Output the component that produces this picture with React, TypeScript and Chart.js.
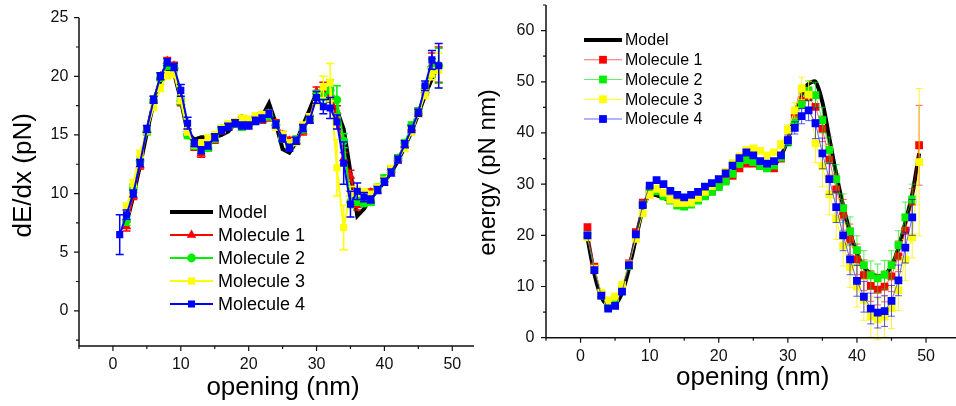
import React, { useEffect, useRef } from 'react';
import { Chart, registerables } from 'chart.js';

Chart.register(...registerables);

const FONT = '"Liberation Sans", Arial, Helvetica, sans-serif';
Chart.defaults.font.family = FONT;

// ---------- Left panel: dE/dx (pN) vs opening (nm) ----------
const openingL = [1, 2, 3, 4, 5, 6, 7, 8, 9, 10, 11, 12, 13, 14, 15, 16, 17, 18, 19, 20, 21, 22, 23, 24, 25, 26, 27, 28, 29, 30, 31, 32, 33, 34, 35, 36, 37, 38, 39, 40, 41, 42, 43, 44, 45, 46, 47, 48];
const modelOpeningL = [2, 3, 4, 5, 6, 7, 8, 9, 10, 11, 12, 13, 14, 15, 16, 17, 18, 19, 20, 21, 22, 23, 24, 25, 26, 27, 28, 29, 30, 31, 32, 33, 34, 35, 36, 37, 38, 39, 40, 41, 42, 43, 44, 45, 46, 47, 47.6];
const modelDEdx = [7.5, 9.8, 12.4, 15.2, 17.8, 19.6, 20.4, 20.3, 18.0, 15.2, 14.6, 14.8, 14.8, 14.8, 15.0, 15.3, 16.0, 16.6, 16.4, 16.2, 16.6, 17.7, 16.0, 13.8, 13.5, 14.4, 15.8, 17.2, 18.6, 18.5, 17.9, 17.1, 15.5, 11.8, 8.1, 8.7, 9.6, 10.3, 11.0, 11.8, 12.8, 14.0, 15.3, 16.8, 18.4, 19.8, 20.5];

const mol1DEdx = [null, 7.2, 9.8, 12.4, 15.4, 18.0, 20.0, 21.3, 20.9, 17.8, 15.2, 14.0, 13.4, 13.9, 14.6, 15.4, 15.7, 16.0, 16.2, 16.0, 16.3, 16.3, 16.5, 16.0, 15.0, 14.5, 14.5, 15.3, 16.4, 18.7, 18.8, 18.4, 17.0, 13.0, 11.5, 9.0, 9.3, 10.1, 10.4, 11.2, 12.0, 13.0, 14.2, 15.6, 17.0, 18.8, 21.0, 21.0];
const mol1DEdxErr = [0, 0.4, 0.3, 0.3, 0.3, 0.3, 0.3, 0.3, 0.3, 0.3, 0.3, 0.3, 0.3, 0.3, 0.3, 0.3, 0.3, 0.3, 0.3, 0.3, 0.3, 0.3, 0.3, 0.3, 0.3, 0.3, 0.3, 0.3, 0.3, 0.4, 0.7, 0.6, 0.5, 0.5, 0.5, 0.4, 0.3, 0.3, 0.3, 0.3, 0.3, 0.3, 0.3, 0.3, 0.3, 0.4, 1.0, 1.5];

const mol2DEdx = [null, 7.7, 10.5, 12.8, 15.3, 18.0, 19.9, 20.9, 20.6, 17.9, 15.0, 14.1, 13.8, 13.9, 14.7, 15.5, 15.8, 16.0, 15.7, 16.0, 16.3, 16.4, 16.6, 15.9, 14.7, 14.1, 14.6, 15.5, 16.3, 18.4, 18.3, 18.8, 18.0, 14.5, 9.3, 9.4, 9.2, 9.3, 10.5, 11.3, 12.0, 13.0, 14.3, 15.8, 17.0, 18.9, 20.7, 20.9];
const mol2DEdxErr = [0, 0.4, 0.3, 0.3, 0.3, 0.3, 0.3, 0.3, 0.3, 0.3, 0.3, 0.3, 0.3, 0.3, 0.3, 0.3, 0.3, 0.3, 0.3, 0.3, 0.3, 0.3, 0.3, 0.3, 0.3, 0.3, 0.3, 0.3, 0.3, 0.4, 0.6, 0.9, 1.2, 0.6, 0.5, 0.4, 0.3, 0.3, 0.3, 0.3, 0.3, 0.3, 0.3, 0.3, 0.3, 0.4, 0.8, 1.5];

const mol3DEdx = [null, 8.8, 10.9, 13.4, 15.4, 17.4, 19.0, 20.1, 20.2, 18.0, 15.3, 14.2, 14.3, 14.7, 15.0, 15.5, 15.9, 16.1, 16.4, 16.3, 16.6, 16.7, 16.8, 15.7, 15.0, 14.3, 14.4, 15.8, 16.5, 18.0, 19.1, 19.5, 12.2, 7.1, 10.0, 10.2, 10.1, 9.9, 10.5, 11.1, 12.1, 12.9, 13.9, 15.3, 16.8, 18.5, 20.2, 20.5];
const mol3DEdxErr = [0, 0.4, 0.3, 0.3, 0.3, 0.3, 0.3, 0.3, 0.3, 0.3, 0.3, 0.3, 0.3, 0.3, 0.3, 0.3, 0.3, 0.3, 0.3, 0.3, 0.3, 0.3, 0.3, 0.3, 0.3, 0.3, 0.3, 0.3, 0.3, 0.4, 0.9, 1.6, 2.4, 1.9, 0.6, 0.4, 0.3, 0.3, 0.3, 0.3, 0.3, 0.3, 0.3, 0.3, 0.3, 0.4, 0.5, 1.5];

const mol4DEdx = [6.5, 8.2, 10.0, 12.6, 15.5, 18.0, 20.0, 21.2, 20.8, 18.8, 16.0, 14.3, 13.7, 14.1, 14.8, 15.4, 15.7, 16.0, 15.8, 15.8, 16.2, 16.4, 16.8, 15.9, 14.7, 13.9, 14.5, 15.6, 16.3, 18.2, 17.4, 17.3, 16.1, 12.6, 9.1, 10.2, 9.7, 9.5, 10.3, 11.0, 11.8, 12.9, 14.2, 15.5, 16.9, 19.2, 21.4, 20.9];
const mol4DEdxErr = [1.7, 0.4, 0.3, 0.3, 0.3, 0.3, 0.3, 0.3, 0.3, 0.5, 0.5, 0.3, 0.3, 0.3, 0.3, 0.3, 0.3, 0.3, 0.3, 0.3, 0.3, 0.3, 0.3, 0.3, 0.3, 0.3, 0.3, 0.3, 0.3, 0.5, 0.6, 0.9, 0.6, 1.8, 1.1, 0.7, 0.4, 0.3, 0.3, 0.3, 0.3, 0.3, 0.3, 0.3, 0.3, 0.4, 0.8, 1.9];

// ---------- Right panel: energy (pN nm) vs opening (nm) ----------
const openingR = [1, 2, 3, 4, 5, 6, 7, 8, 9, 10, 11, 12, 13, 14, 15, 16, 17, 18, 19, 20, 21, 22, 23, 24, 25, 26, 27, 28, 29, 30, 31, 32, 33, 34, 35, 36, 37, 38, 39, 40, 41, 42, 43, 44, 45, 46, 47, 48, 49];
const modelEnergy = [19.5, 12.5, 8.0, 6.3, 6.5, 8.8, 13.5, 19.3, 25.0, 28.0, 27.8, 27.3, 26.8, 26.3, 26.0, 26.2, 26.8, 27.6, 28.6, 29.8, 31.0, 32.4, 34.2, 35.5, 35.2, 34.3, 33.5, 33.8, 35.5, 38.8, 43.5, 47.5, 49.6, 50.0, 46.0, 39.0, 32.0, 25.8, 20.6, 16.5, 13.8, 12.5, 12.0, 12.3, 14.0, 17.5, 22.5, 28.0, 36.0];

const mol1Energy = [21.6, 13.9, 8.5, 6.2, 6.5, 9.5, 14.5, 20.6, 26.4, 28.8, 28.8, 28.0, 27.0, 26.4, 26.2, 26.3, 27.0, 27.8, 28.6, 29.8, 30.8, 31.6, 33.1, 34.0, 34.0, 33.6, 33.3, 33.1, 35.0, 38.5, 43.0, 46.3, 47.0, 45.1, 40.8, 34.8, 29.0, 24.0, 19.2, 15.3, 12.2, 10.1, 9.4, 10.0, 12.0, 15.9, 20.9, 26.6, 37.6];
const mol1EnergyErr = [0.5, 0.5, 0.5, 0.5, 0.5, 0.5, 0.5, 0.5, 0.5, 0.5, 0.5, 0.5, 0.5, 0.5, 0.5, 0.5, 0.5, 0.5, 0.5, 0.5, 0.5, 0.5, 0.5, 0.5, 0.5, 0.5, 0.5, 0.5, 0.5, 0.8, 1.0, 1.5, 2.0, 2.5, 2.5, 3.0, 3.0, 3.0, 3.0, 3.0, 3.0, 3.0, 3.0, 3.0, 3.0, 3.0, 3.0, 2.5, 7.8];

const mol2Energy = [20.0, 13.3, 8.2, 6.3, 6.6, 9.2, 14.0, 20.0, 26.0, 28.3, 28.6, 27.6, 26.8, 25.8, 25.6, 26.0, 26.8, 27.6, 28.5, 29.4, 30.5, 32.0, 33.9, 34.7, 34.3, 33.5, 33.1, 33.6, 35.2, 38.2, 42.0, 45.6, 48.2, 47.4, 42.5, 36.7, 31.0, 25.3, 20.8, 17.1, 14.2, 12.2, 11.6, 12.3, 14.2, 18.1, 23.5, 27.0, null];
const mol2EnergyErr = [0.5, 0.5, 0.5, 0.5, 0.5, 0.5, 0.5, 0.5, 0.5, 0.5, 0.5, 0.5, 0.5, 0.5, 0.5, 0.5, 0.5, 0.5, 0.5, 0.5, 0.5, 0.5, 0.5, 0.5, 0.5, 0.5, 0.5, 0.5, 0.5, 0.8, 1.2, 1.8, 2.0, 2.5, 2.5, 2.5, 2.8, 2.8, 2.8, 2.8, 2.8, 2.8, 2.8, 2.8, 2.8, 2.8, 3.0, 3.0, 0];

const mol3Energy = [19.6, 13.5, 8.8, 7.3, 8.0, 10.3, 14.3, 19.3, 24.3, 27.9, 29.1, 28.3, 27.0, 26.3, 26.3, 26.4, 27.3, 28.5, 29.6, 31.0, 32.4, 34.1, 35.4, 36.7, 37.0, 36.5, 35.6, 36.2, 37.7, 40.6, 44.4, 48.7, 47.5, 38.0, 33.5, 28.0, 23.2, 18.0, 13.8, 10.0, 7.4, 4.1, 3.6, 4.1, 5.8, 9.3, 15.2, 19.6, 34.3];
const mol3EnergyErr = [0.5, 0.5, 0.5, 0.5, 0.5, 0.5, 0.5, 0.5, 0.5, 0.5, 0.5, 0.5, 0.5, 0.5, 0.5, 0.5, 0.5, 0.5, 0.5, 0.5, 0.5, 0.5, 0.5, 0.5, 0.5, 0.5, 0.5, 0.5, 0.8, 1.0, 1.5, 2.2, 2.5, 3.8, 4.0, 4.0, 4.0, 4.0, 4.0, 4.0, 4.0, 4.0, 4.0, 4.0, 4.0, 4.0, 4.0, 4.0, 14.4];

const mol4Energy = [20.0, 13.2, 8.2, 5.7, 6.2, 9.0, 14.2, 20.2, 25.9, 29.7, 30.8, 30.0, 28.7, 27.9, 27.4, 27.9, 28.5, 29.5, 30.2, 31.0, 32.1, 33.6, 35.1, 36.2, 35.6, 34.5, 34.0, 34.5, 35.6, 38.6, 41.0, 43.3, 44.4, 41.9, 36.0, 31.0, 25.5, 20.0, 15.3, 11.1, 8.0, 5.7, 4.9, 5.2, 7.2, 11.2, 17.6, 23.5, null];
const mol4EnergyErr = [0.5, 0.5, 0.5, 0.5, 0.5, 0.5, 0.5, 0.5, 0.5, 0.5, 0.5, 0.5, 0.5, 0.5, 0.5, 0.5, 0.5, 0.5, 0.5, 0.5, 0.5, 0.5, 0.5, 0.5, 0.5, 0.5, 0.5, 0.5, 0.5, 1.0, 1.2, 1.5, 2.0, 3.0, 3.0, 3.0, 3.0, 3.0, 3.0, 3.0, 3.0, 3.0, 3.0, 3.0, 3.0, 3.0, 3.0, 3.5, 0];

// ---------- tick labels ----------
const openingTickLabels = [0, 10, 20, 30, 40, 50];
const dEdxTickLabels = [0, 5, 10, 15, 20, 25];
const energyTickLabels = [0, 10, 20, 30, 40, 50, 60];
const seriesLabels = ['Model', 'Molecule 1', 'Molecule 2', 'Molecule 3', 'Molecule 4'];

// ---------- helpers ----------
function drawMarker(ctx: CanvasRenderingContext2D, style: string, x: number, y: number, r: number, color: string) {
  ctx.fillStyle = color;
  ctx.beginPath();
  if (style === 'rect') {
    const s = r * Math.SQRT1_2;
    ctx.rect(x - s, y - s, 2 * s, 2 * s);
  } else if (style === 'circle') {
    ctx.arc(x, y, r, 0, Math.PI * 2);
  } else if (style === 'triangle') {
    let a = 0;
    ctx.moveTo(x + Math.sin(a) * r, y - Math.cos(a) * r);
    a += (2 * Math.PI) / 3;
    ctx.lineTo(x + Math.sin(a) * r, y - Math.cos(a) * r);
    a += (2 * Math.PI) / 3;
    ctx.lineTo(x + Math.sin(a) * r, y - Math.cos(a) * r);
    ctx.closePath();
  }
  ctx.fill();
}

const decorPlugin = {
  id: 'panelDecor',
  beforeDatasetDraw(chart: any, args: any) {
    const ds: any = chart.data.datasets[args.index];
    if (!ds.errors) return;
    const ctx: CanvasRenderingContext2D = chart.ctx;
    const ys = chart.scales.y;
    ctx.save();
    ctx.strokeStyle = ds.errColor;
    ctx.lineWidth = ds.errWidth;
    args.meta.data.forEach((pt: any, i: number) => {
      const d = ds.data[i];
      const e = ds.errors[i];
      if (!d || d.y == null || !e) return;
      const x = pt.x;
      const y1 = ys.getPixelForValue(d.y + e);
      const y2 = ys.getPixelForValue(d.y - e);
      const c = ds.capHalf;
      ctx.beginPath();
      ctx.moveTo(x, y1);
      ctx.lineTo(x, y2);
      ctx.moveTo(x - c, y1);
      ctx.lineTo(x + c, y1);
      ctx.moveTo(x - c, y2);
      ctx.lineTo(x + c, y2);
      ctx.stroke();
    });
    ctx.restore();
  },
  afterDraw(chart: any) {
    const o = chart.options.plugins.panelDecor;
    const ctx: CanvasRenderingContext2D = chart.ctx;
    const { left, right, top, bottom } = chart.chartArea;
    const xs = chart.scales.x;
    const ys = chart.scales.y;
    ctx.save();
    // axis lines
    ctx.strokeStyle = '#111';
    ctx.lineWidth = 1.5;
    ctx.beginPath();
    ctx.moveTo(left, top);
    ctx.lineTo(left, bottom);
    ctx.lineTo(right, bottom);
    ctx.stroke();
    // tick marks (major labelled, minor unlabelled)
    ctx.lineWidth = 1.2;
    ctx.beginPath();
    xs.ticks.forEach((t: any) => {
      const px = xs.getPixelForValue(t.value);
      const len = t.label !== '' ? 5 : 3;
      ctx.moveTo(px, bottom);
      ctx.lineTo(px, bottom + len);
    });
    ys.ticks.forEach((t: any) => {
      const py = ys.getPixelForValue(t.value);
      const len = t.label !== '' ? 5 : 3;
      ctx.moveTo(left - len, py);
      ctx.lineTo(left, py);
    });
    ctx.stroke();
    // axis titles
    ctx.fillStyle = '#000';
    ctx.textBaseline = 'alphabetic';
    ctx.textAlign = 'center';
    ctx.font = `${o.xTitle.size}px ${FONT}`;
    ctx.fillText(o.xTitle.text, o.xTitle.x, o.xTitle.y);
    ctx.save();
    ctx.translate(o.yTitle.x, o.yTitle.y);
    ctx.rotate(-Math.PI / 2);
    ctx.font = `${o.yTitle.size}px ${FONT}`;
    ctx.fillText(o.yTitle.text, 0, 0);
    ctx.restore();
    // legend
    const lg = o.legend;
    ctx.textAlign = 'left';
    ctx.textBaseline = 'middle';
    ctx.font = `${lg.size}px ${FONT}`;
    chart.data.datasets.forEach((ds: any, i: number) => {
      const y = lg.y0 + i * lg.dy;
      ctx.strokeStyle = ds.borderColor;
      ctx.lineWidth = ds.legendLineWidth;
      ctx.beginPath();
      ctx.moveTo(lg.x0, y);
      ctx.lineTo(lg.x0 + lg.len, y);
      ctx.stroke();
      if (ds.pointRadius > 0) {
        drawMarker(ctx, ds.pointStyle, lg.x0 + lg.len / 2, y, ds.pointRadius, ds.pointBackgroundColor);
      }
      ctx.fillStyle = '#000';
      ctx.fillText(ds.label, lg.textX, y + 1);
    });
    ctx.restore();
  },
};

type SeriesCfg = {
  label: string;
  x: number[];
  y: (number | null)[];
  err?: number[];
  color: string;
  lineColor: string;
  lineWidth: number;
  legendLineWidth: number;
  pointStyle: string;
  radius: number;
  errColor?: string;
  errWidth?: number;
  capHalf?: number;
  tension?: number;
  order: number;
};

type PanelCfg = {
  canvasLeft: number;
  canvasW: number;
  padTop: number;
  padRight: number;
  yAxisW: number;
  xAxisH: number;
  xMin: number;
  xMax: number;
  yMin: number;
  yMax: number;
  yStep: number;
  yLabels: number[];
  xTickPad: number;
  yTickPad: number;
  series: SeriesCfg[];
  xTitle: { text: string; x: number; y: number; size: number };
  yTitle: { text: string; x: number; y: number; size: number };
  legend: { x0: number; len: number; y0: number; dy: number; textX: number; size: number };
};

function buildConfig(p: PanelCfg): any {
  const datasets = p.series.map((s) => ({
    label: s.label,
    data: s.x.map((x, i) => ({ x, y: s.y[i] })),
    borderColor: s.lineColor,
    borderWidth: s.lineWidth,
    legendLineWidth: s.legendLineWidth,
    pointStyle: s.radius > 0 ? s.pointStyle : false,
    pointRadius: s.radius,
    pointBackgroundColor: s.color,
    pointBorderColor: s.color,
    pointBorderWidth: 0,
    tension: s.tension ?? 0,
    fill: false,
    spanGaps: false,
    errors: s.err,
    errColor: s.errColor,
    errWidth: s.errWidth,
    capHalf: s.capHalf,
    order: s.order,
  }));
  const fitFix = (size: number, horizontal: boolean) => (s: any) => {
    if (horizontal) s.height = size;
    else s.width = size;
    s.paddingLeft = 0;
    s.paddingRight = 0;
    s.paddingTop = 0;
    s.paddingBottom = 0;
  };
  return {
    type: 'line',
    data: { datasets },
    options: {
      animation: false,
      responsive: false,
      events: [],
      layout: { padding: { left: 0, top: p.padTop, right: p.padRight, bottom: 0 }, autoPadding: false },
      plugins: {
        legend: { display: false },
        tooltip: { enabled: false },
        panelDecor: { xTitle: p.xTitle, yTitle: p.yTitle, legend: p.legend },
      },
      scales: {
        x: {
          type: 'linear',
          min: p.xMin,
          max: p.xMax,
          grid: { display: false, drawTicks: false },
          border: { display: false },
          title: { display: false },
          ticks: {
            stepSize: 5,
            includeBounds: false,
            autoSkip: false,
            maxRotation: 0,
            padding: p.xTickPad,
            color: '#111',
            font: { size: 16, family: FONT },
            callback: (v: number) => (openingTickLabels.includes(v) ? String(v) : ''),
          },
          afterFit: fitFix(p.xAxisH, true),
        },
        y: {
          type: 'linear',
          min: p.yMin,
          max: p.yMax,
          grid: { display: false, drawTicks: false },
          border: { display: false },
          title: { display: false },
          ticks: {
            stepSize: p.yStep,
            includeBounds: false,
            autoSkip: false,
            padding: p.yTickPad,
            color: '#111',
            font: { size: 16, family: FONT },
            callback: (v: number) => (p.yLabels.includes(v) ? String(v) : ''),
          },
          afterFit: fitFix(p.yAxisW, false),
        },
      },
    },
    plugins: [decorPlugin],
  };
}

const leftPanel: PanelCfg = {
  canvasLeft: 0,
  canvasW: 480,
  padTop: 17.7,
  padRight: 6,
  yAxisW: 79,
  xAxisH: 60,
  xMin: -5,
  xMax: 53.2,
  yMin: -3,
  yMax: 25,
  yStep: 2.5,
  yLabels: dEdxTickLabels,
  xTickPad: 9.4,
  yTickPad: 10.7,
  xTitle: { text: 'opening (nm)', x: 283, y: 394.5, size: 26 },
  yTitle: { text: 'dE/dx (pN)', x: 31, y: 175.3, size: 26 },
  legend: { x0: 170, len: 43, y0: 212, dy: 23, textX: 218, size: 18 },
  series: [
    { label: seriesLabels[0], x: modelOpeningL, y: modelDEdx, color: '#000', lineColor: '#000', lineWidth: 4, legendLineWidth: 4, pointStyle: 'circle', radius: 0, order: 10 },
    { label: seriesLabels[1], x: openingL, y: mol1DEdx, err: mol1DEdxErr, color: '#ff0000', lineColor: '#ff0000', lineWidth: 2, legendLineWidth: 2, pointStyle: 'triangle', radius: 5.5, errColor: '#ff0000', errWidth: 1.5, capHalf: 4, order: 4 },
    { label: seriesLabels[2], x: openingL, y: mol2DEdx, err: mol2DEdxErr, color: '#00ee00', lineColor: '#00ee00', lineWidth: 2, legendLineWidth: 2, pointStyle: 'circle', radius: 4.4, errColor: '#00ee00', errWidth: 1.5, capHalf: 4, order: 3 },
    { label: seriesLabels[3], x: openingL, y: mol3DEdx, err: mol3DEdxErr, color: '#ffff00', lineColor: '#ffff00', lineWidth: 2, legendLineWidth: 2, pointStyle: 'rect', radius: 5, errColor: '#ffff00', errWidth: 1.5, capHalf: 4, order: 2 },
    { label: seriesLabels[4], x: openingL, y: mol4DEdx, err: mol4DEdxErr, color: '#0000ff', lineColor: '#0000ff', lineWidth: 2, legendLineWidth: 2, pointStyle: 'rect', radius: 5, errColor: '#0000ff', errWidth: 1.5, capHalf: 4, order: 1 },
  ],
};

const rightPanel: PanelCfg = {
  canvasLeft: 476,
  canvasW: 490,
  padTop: 5,
  padRight: 5.4,
  yAxisW: 70,
  xAxisH: 68.3,
  xMin: -5,
  xMax: 55,
  yMin: 0,
  yMax: 65,
  yStep: 5,
  yLabels: energyTickLabels,
  xTickPad: 9.7,
  yTickPad: 11.7,
  xTitle: { text: 'opening (nm)', x: 276.7, y: 385, size: 26 },
  yTitle: { text: 'energy (pN nm)', x: 18.5, y: 172.5, size: 24 },
  legend: { x0: 108, len: 38, y0: 40, dy: 19.75, textX: 149, size: 16 },
  series: [
    { label: seriesLabels[0], x: openingR, y: modelEnergy, color: '#000', lineColor: '#000', lineWidth: 4, legendLineWidth: 4, pointStyle: 'circle', radius: 0, tension: 0.3, order: 10 },
    { label: seriesLabels[1], x: openingR, y: mol1Energy, err: mol1EnergyErr, color: '#ff0000', lineColor: 'rgba(255,0,0,0.6)', lineWidth: 1, legendLineWidth: 1, pointStyle: 'rect', radius: 5.5, errColor: 'rgba(255,0,0,0.65)', errWidth: 1, capHalf: 3.5, order: 4 },
    { label: seriesLabels[2], x: openingR, y: mol2Energy, err: mol2EnergyErr, color: '#00ee00', lineColor: 'rgba(0,230,0,0.6)', lineWidth: 1, legendLineWidth: 1, pointStyle: 'rect', radius: 5.5, errColor: 'rgba(0,230,0,0.65)', errWidth: 1, capHalf: 3.5, order: 3 },
    { label: seriesLabels[3], x: openingR, y: mol3Energy, err: mol3EnergyErr, color: '#ffff00', lineColor: 'rgba(255,255,0,0.9)', lineWidth: 1, legendLineWidth: 1, pointStyle: 'rect', radius: 5.5, errColor: 'rgba(255,240,0,0.8)', errWidth: 1, capHalf: 3.5, order: 2 },
    { label: seriesLabels[4], x: openingR, y: mol4Energy, err: mol4EnergyErr, color: '#0000ff', lineColor: 'rgba(0,0,255,0.6)', lineWidth: 1, legendLineWidth: 1, pointStyle: 'rect', radius: 5.5, errColor: 'rgba(0,0,255,0.65)', errWidth: 1, capHalf: 3.5, order: 1 },
  ],
};

function Panel({ cfg }: { cfg: PanelCfg }) {
  const ref = useRef<HTMLCanvasElement>(null);
  useEffect(() => {
    const chart = new Chart(ref.current as HTMLCanvasElement, buildConfig(cfg));
    return () => chart.destroy();
  }, [cfg]);
  return (
    <canvas
      ref={ref}
      width={cfg.canvasW}
      height={406}
      style={{ position: 'absolute', left: cfg.canvasLeft, top: 0, width: cfg.canvasW, height: 406 }}
    />
  );
}

export default function App() {
  return (
    <div style={{ position: 'fixed', left: 0, top: 0, width: 956, height: 406, overflow: 'hidden', background: '#fff' }}>
      <Panel cfg={leftPanel} />
      <Panel cfg={rightPanel} />
    </div>
  );
}
